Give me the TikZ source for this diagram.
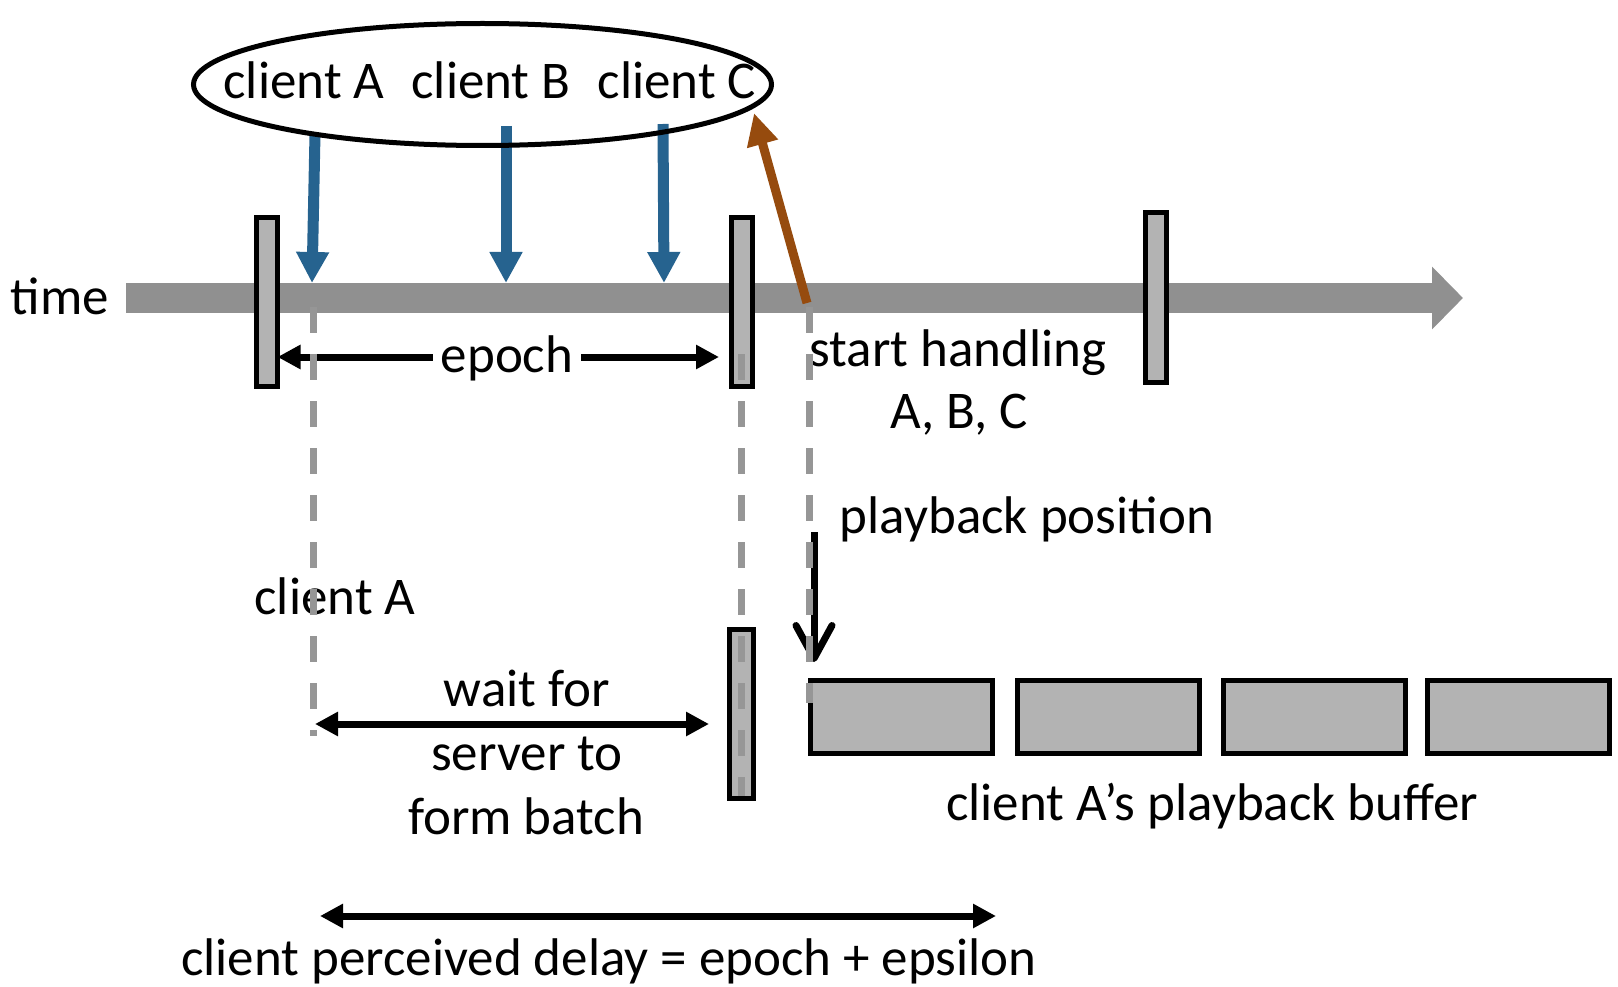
\documentclass[tikz,border=0pt]{standalone}
\usepackage{fontspec}
\setmainfont{Carlito}
\usetikzlibrary{arrows.meta,shapes.geometric}
\definecolor{axisgray}{HTML}{909090}
\definecolor{boxgray}{HTML}{B3B3B3}
\definecolor{dashgray}{HTML}{969696}
\definecolor{clientblue}{HTML}{26638F}
\definecolor{replybrown}{HTML}{964B0E}
\begin{document}
\begin{tikzpicture}[x=1pt,y=-1pt,
  lbl/.style={font=\fontsize{53}{64}\selectfont, inner sep=0pt, anchor=base},
  slot/.style={draw, line width=5pt, fill=boxgray, inner sep=0pt, outer sep=0pt,
               minimum width=21pt, minimum height=169pt},
  bufbox/.style={draw, line width=5pt, fill=boxgray, inner sep=0pt, outer sep=0pt,
                 minimum width=182pt, minimum height=73pt},
  guide/.style={dashgray, line width=7pt, dash pattern=on 26pt off 21pt},
  sendarrow/.style={clientblue, line width=11pt, -{Triangle[length=31pt,width=31pt]}},
  replyarrow/.style={replybrown, line width=9pt, -{Triangle[length=32pt,width=30pt]}},
  span/.style={black, line width=7pt, {Triangle[length=23pt,width=23pt]}-{Triangle[length=23pt,width=23pt]}},
]
\useasboundingbox (0,0) rectangle (1618,987);

% time axis
\coordinate (tstart) at (126,298);
\coordinate (tend) at (1463,298);
\draw[axisgray, line width=30pt, -{Triangle[length=31pt,width=61pt]}] (tstart) -- (tend);
\node[lbl] (timelbl) at (60,314) {time};

% epoch boundaries
\node[slot] (e1) at (267,302) {};
\node[slot] (e2) at (742,302) {};
\node[slot] (e3) at (1156,297.5) {};

% clients sending requests
\coordinate (sA) at (315,134);
\coordinate (sB) at (506,126);
\coordinate (sC) at (663,124);
\coordinate (hA) at (312,283);
\coordinate (hB) at (506,283);
\coordinate (hC) at (664,283);
\draw[sendarrow] (sA) -- (hA);
\draw[sendarrow] (sB) -- (hB);
\draw[sendarrow] (sC) -- (hC);

\node[ellipse, draw, line width=5pt, fill=none, inner sep=0pt, outer sep=0pt,
      minimum width=578pt, minimum height=122pt] (clients) at (482.5,84.5) {};
\node[lbl] (cA) at (304,99) {client A};
\node[lbl] (cB) at (491,99) {client B};
\node[lbl] (cC) at (677,99) {client C};

% server starts handling the batch
\coordinate (hstart) at (807,303);
\coordinate (hend) at (754,113);
\draw[replyarrow] (hstart) -- (hend);
\node[lbl] (start1) at (958,366) {start handling};
\node[lbl] (start2) at (959,428) {A, B, C};

% epoch length
\draw[span] (e1.east |- 0,357) -- (719,357);
\node[lbl, fill=white, inner xsep=8pt] (epochlbl) at (507,372) {epoch};

% client A timeline
\node[lbl] (cAlow) at (335,614) {client A};
\node[slot, minimum height=169pt, minimum width=24pt] (e4) at (741,714) {};
\coordinate (wl) at (315,724);
\coordinate (wr) at (709,724);
\draw[span] (wl) -- (wr);
\node[lbl] (w1) at (527,706) {wait for};
\node[lbl] (w2) at (527,770) {server to};
\node[lbl] (w3) at (526,834) {form batch};

% playback buffer
\node[bufbox] (b1) at (901,717) {};
\node[bufbox] (b2) at (1108.5,717) {};
\node[bufbox] (b3) at (1314,717) {};
\node[bufbox] (b4) at (1518.5,717) {};
\node[lbl] (buflbl) at (1212,820) {client A’s playback buffer};

\node[lbl] (playlbl) at (1027,533) {playback position};
\coordinate (pstart) at (814,532);
\coordinate (pend) at (814,662);
\draw[black, line width=7pt, -{Straight Barb[length=33pt,width=36pt,round]}] (pstart) -- (pend);

% perceived delay
\coordinate (dl) at (320,916);
\coordinate (dr) at (996,916);
\draw[span] (dl) -- (dr);
\node[lbl] (delaylbl) at (609,975) {client perceived delay = epoch + epsilon};

% guide lines
\draw[guide] (313,307) -- (313,736);
\draw[guide] (741,354) -- (741,796);
\draw[guide] (809,307) -- (809,703);
\end{tikzpicture}
\end{document}
